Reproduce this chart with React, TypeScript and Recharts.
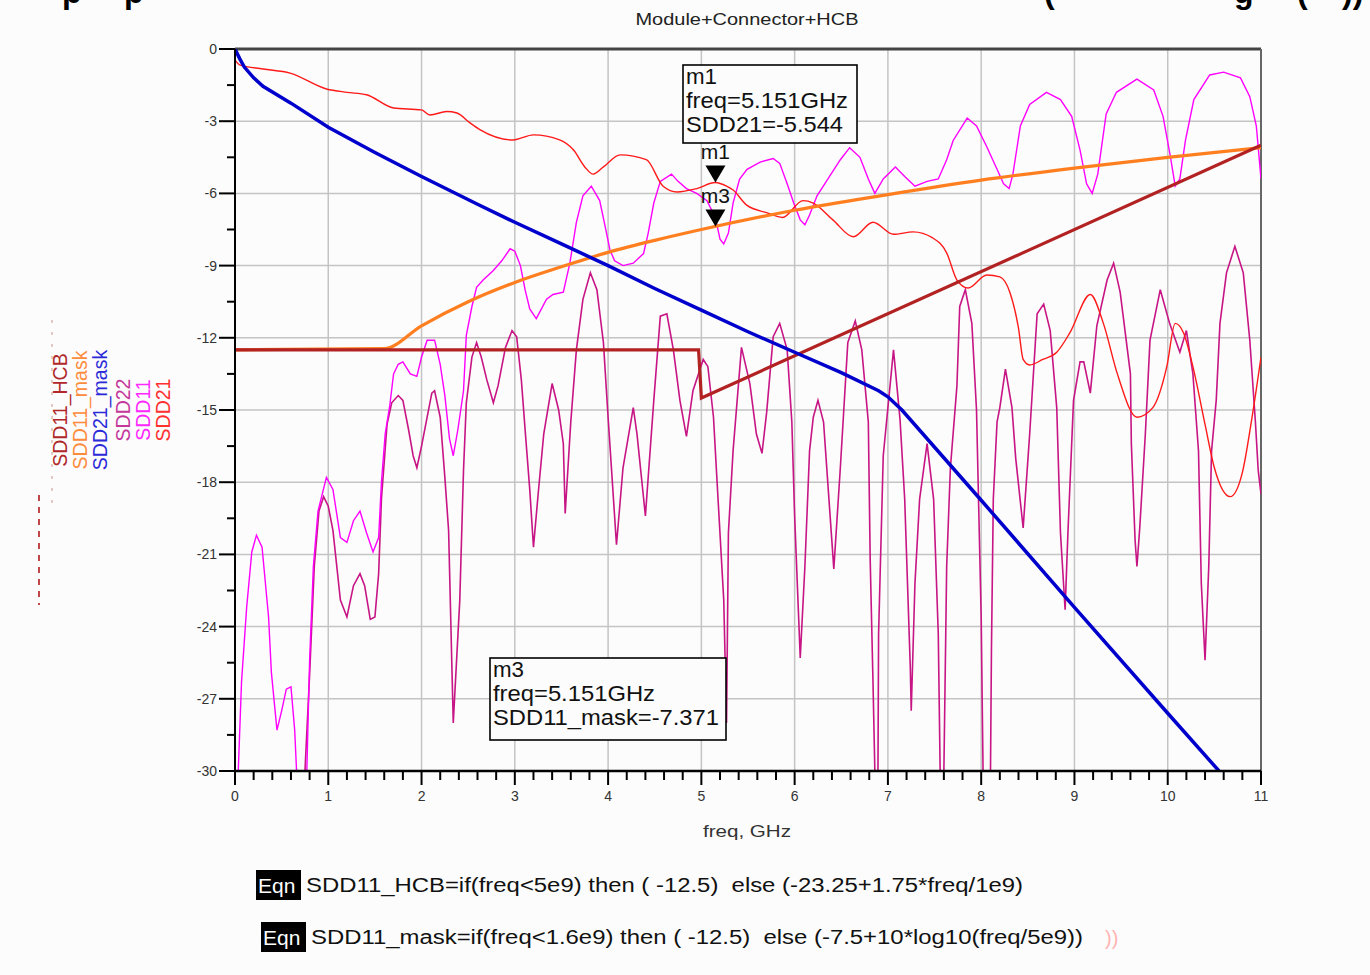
import React from 'react';
import { LineChart, Line, XAxis, YAxis, CartesianGrid, ReferenceLine, ReferenceDot } from 'recharts';

const FONT = '"Liberation Sans", Arial, Helvetica, sans-serif';

// axes: freq in GHz, level in dB
const xMajorTicks = [0, 1, 2, 3, 4, 5, 6, 7, 8, 9, 10, 11];
const yMajorTicks = [0, -3, -6, -9, -12, -15, -18, -21, -24, -27, -30];

// SDD22 (purple) - values of -33 sit below the plot floor and get clipped
const sdd22Freq = [0, 0.72, 0.75, 0.8, 0.85, 0.9, 0.95, 1.0, 1.05, 1.13, 1.2, 1.27, 1.34, 1.39, 1.45, 1.5, 1.54, 1.57, 1.63, 1.68, 1.75, 1.8, 1.86, 1.91, 1.95, 2.0, 2.06, 2.11, 2.14, 2.2, 2.25, 2.29, 2.34, 2.41, 2.45, 2.48, 2.54, 2.59, 2.64, 2.7, 2.77, 2.82, 2.9, 2.97, 3.02, 3.07, 3.11, 3.16, 3.2, 3.25, 3.31, 3.4, 3.47, 3.52, 3.54, 3.6, 3.66, 3.73, 3.81, 3.88, 3.95, 4.0, 4.09, 4.16, 4.27, 4.31, 4.4, 4.49, 4.56, 4.63, 4.7, 4.77, 4.84, 4.91, 5.02, 5.07, 5.13, 5.16, 5.24, 5.27, 5.29, 5.34, 5.43, 5.52, 5.59, 5.65, 5.7, 5.77, 5.84, 5.92, 5.97, 6.0, 6.06, 6.11, 6.16, 6.2, 6.25, 6.31, 6.42, 6.49, 6.57, 6.65, 6.72, 6.79, 6.81, 6.84, 6.86, 6.87, 6.89, 6.9, 6.95, 7.06, 7.13, 7.18, 7.24, 7.25, 7.29, 7.34, 7.42, 7.49, 7.54, 7.56, 7.58, 7.6, 7.63, 7.67, 7.74, 7.77, 7.83, 7.9, 7.95, 8.0, 8.02, 8.05, 8.09, 8.1, 8.11, 8.13, 8.17, 8.2, 8.26, 8.33, 8.37, 8.45, 8.52, 8.6, 8.67, 8.74, 8.81, 8.85, 8.9, 8.93, 8.99, 9.06, 9.1, 9.17, 9.24, 9.35, 9.42, 9.49, 9.6, 9.61, 9.65, 9.67, 9.7, 9.76, 9.81, 9.92, 10.02, 10.13, 10.2, 10.27, 10.33, 10.36, 10.4, 10.44, 10.47, 10.52, 10.56, 10.63, 10.72, 10.81, 10.88, 10.94, 10.97, 11.0];
const sdd22Db = [-33, -33, -30, -26, -21.5, -19.2, -18.6, -19.0, -20.0, -22.9, -23.6, -22.3, -21.8, -22.3, -23.7, -23.6, -21.8, -18.7, -15.6, -14.7, -14.4, -14.6, -15.8, -16.9, -17.4, -16.5, -15.3, -14.3, -14.2, -15.3, -17.8, -20.0, -28.0, -22.9, -17.5, -14.7, -12.8, -12.2, -12.8, -13.75, -14.7, -14.0, -12.4, -11.7, -11.96, -13.75, -15.8, -18.3, -20.7, -18.5, -16.0, -13.9, -15.0, -16.4, -19.3, -15.5, -12.5, -10.4, -9.3, -10.0, -12.2, -15.3, -20.6, -17.4, -14.9, -16.0, -19.4, -14.6, -11.1, -11.0, -12.5, -14.6, -16.1, -14.2, -12.9, -13.2, -15.3, -17.4, -22.9, -28.0, -20.1, -16.7, -12.4, -13.9, -16.0, -16.8, -15.1, -11.95, -11.4, -12.5, -15.5, -19.4, -25.3, -21.5, -16.7, -15.3, -14.6, -15.5, -21.6, -17.4, -12.2, -11.3, -12.5, -15.5, -21.2, -26.3, -30, -33, -33, -24.3, -16.9, -12.5, -15.4, -18.7, -25.7, -27.5, -22.2, -18.7, -16.4, -18.7, -24.3, -30, -33, -30, -21.5, -17.4, -14.0, -10.7, -10.0, -11.4, -15.0, -23.6, -30, -33, -33, -30, -25.0, -18.7, -15.5, -14.9, -13.3, -14.9, -17.0, -19.9, -16.0, -11.0, -10.6, -11.7, -14.9, -20.1, -23.3, -20.1, -14.6, -13.0, -13.0, -14.3, -11.5, -9.6, -8.9, -10.1, -13.5, -16.4, -20.4, -21.5, -19.9, -16.0, -12.1, -10.0, -11.4, -12.6, -11.7, -13.5, -16.7, -22.2, -25.4, -21.5, -16.7, -14.6, -11.4, -9.3, -8.2, -9.3, -12.1, -15.5, -17.5, -18.5];

// SDD11 (magenta)
const sdd11Freq = [0, 0.035, 0.07, 0.125, 0.18, 0.23, 0.29, 0.36, 0.39, 0.45, 0.5, 0.55, 0.6, 0.64, 0.66, 0.68, 0.75, 0.77, 0.8, 0.84, 0.89, 0.98, 1.05, 1.13, 1.2, 1.27, 1.34, 1.41, 1.48, 1.54, 1.57, 1.61, 1.66, 1.7, 1.75, 1.8, 1.88, 1.95, 2.0, 2.06, 2.14, 2.2, 2.25, 2.3, 2.34, 2.39, 2.45, 2.48, 2.54, 2.59, 2.66, 2.77, 2.86, 2.95, 3.0, 3.06, 3.11, 3.16, 3.23, 3.34, 3.41, 3.52, 3.59, 3.66, 3.73, 3.82, 3.91, 3.97, 4.02, 4.07, 4.16, 4.27, 4.38, 4.43, 4.49, 4.56, 4.68, 4.75, 4.84, 4.95, 5.06, 5.15, 5.2, 5.24, 5.29, 5.34, 5.41, 5.49, 5.63, 5.77, 5.84, 5.92, 5.99, 6.06, 6.11, 6.16, 6.24, 6.34, 6.49, 6.59, 6.7, 6.79, 6.86, 6.95, 7.08, 7.18, 7.29, 7.42, 7.54, 7.63, 7.7, 7.85, 7.95, 8.06, 8.17, 8.24, 8.3, 8.34, 8.42, 8.52, 8.7, 8.85, 8.97, 9.06, 9.13, 9.19, 9.25, 9.34, 9.45, 9.67, 9.85, 9.95, 10.03, 10.08, 10.13, 10.19, 10.28, 10.45, 10.6, 10.78, 10.88, 10.95, 11.0];
const sdd11Db = [-33, -30, -26.3, -23.2, -20.9, -20.2, -20.7, -23.6, -25.9, -28.3, -27.5, -26.6, -26.5, -28.3, -30, -33, -33, -30, -25.4, -21.5, -19.2, -17.8, -18.3, -20.3, -20.5, -19.6, -19.2, -20.1, -20.9, -20.3, -18.0, -16.0, -14.8, -13.5, -13.1, -13.0, -13.5, -13.6, -12.8, -12.1, -12.1, -13.1, -14.4, -16.2, -16.9, -15.8, -14.2, -11.9, -10.7, -9.9, -9.6, -9.2, -8.8, -8.3, -8.4, -9.0, -10.0, -10.8, -11.2, -10.4, -10.2, -10.1, -8.9, -7.2, -6.1, -5.7, -6.3, -7.4, -8.35, -8.8, -9.0, -8.9, -8.5, -7.65, -6.4, -5.5, -5.2, -5.5, -5.8, -6.0, -6.3, -7.0, -7.9, -8.1, -7.65, -6.4, -5.4, -5.0, -4.7, -4.55, -4.75, -5.6, -6.4, -7.1, -7.3, -6.9, -6.1, -5.5, -4.6, -4.1, -4.5, -5.4, -6.0, -5.4, -4.9, -5.3, -5.7, -5.5, -5.4, -4.6, -3.8, -2.87, -3.2, -4.06, -5.0, -5.6, -5.8, -5.2, -3.2, -2.3, -1.8, -2.1, -2.8, -4.2, -5.6, -6.0, -5.2, -2.7, -1.8, -1.25, -1.7, -2.8, -4.5, -5.7, -5.4, -3.8, -2.1, -1.08, -0.96, -1.2, -1.98, -3.2, -5.4];

// SDD21 (red)
const sdd21Freq = [0, 0.05, 0.3, 0.59, 0.98, 1.2, 1.41, 1.7, 2.0, 2.09, 2.27, 2.38, 2.52, 2.63, 2.98, 3.2, 3.48, 3.63, 3.75, 3.84, 3.95, 4.13, 4.41, 4.59, 4.74, 4.95, 5.15, 5.27, 5.34, 5.49, 5.7, 5.87, 6.09, 6.2, 6.41, 6.63, 6.84, 7.06, 7.27, 7.48, 7.63, 7.74, 7.86, 8.06, 8.2, 8.31, 8.4, 8.45, 8.52, 8.66, 8.81, 8.95, 9.17, 9.31, 9.46, 9.67, 9.84, 9.99, 10.08, 10.17, 10.27, 10.4, 10.5, 10.67, 10.8, 10.9, 11.0];
const sdd21Db = [-0.45, -0.66, -0.83, -1.0, -1.66, -1.8, -1.9, -2.45, -2.53, -2.74, -2.6, -2.66, -3.07, -3.36, -3.78, -3.57, -3.78, -4.2, -4.9, -5.2, -4.9, -4.4, -4.6, -5.7, -5.94, -5.8, -5.55, -5.7, -5.86, -6.5, -6.8, -7.0, -6.3, -6.4, -7.1, -7.8, -7.2, -7.7, -7.6, -7.85, -8.47, -9.6, -9.93, -9.39, -9.47, -10.14, -11.6, -12.9, -13.13, -12.9, -12.6, -11.8, -10.2, -11.4, -13.5, -15.3, -14.9, -13.2, -11.4, -11.8, -13.2, -15.6, -17.4, -18.6, -17.6, -15.4, -12.8];

// SDD11_mask (orange)
const maskFreq = [0, 1.6, 2, 2.5, 3, 3.5, 4, 4.5, 5, 6, 7, 8, 9, 10, 11];
const maskDb = [-12.5, -12.45, -11.5, -10.5, -9.7, -9.05, -8.45, -7.95, -7.5, -6.7, -6.05, -5.45, -4.95, -4.5, -4.1];

// SDD21_mask (blue)
const sdd21MaskFreq = [0, 0.05, 0.1, 0.2, 0.3, 0.6, 1, 1.5, 2, 2.6, 3, 3.5, 4, 4.5, 5, 5.5, 6, 6.5, 6.9, 7.0, 7.15, 8, 9, 10, 10.55];
const sdd21MaskDb = [0, -0.4, -0.75, -1.2, -1.55, -2.25, -3.25, -4.3, -5.3, -6.45, -7.2, -8.1, -9.0, -9.95, -10.85, -11.75, -12.6, -13.45, -14.2, -14.45, -15.0, -18.75, -23.2, -27.6, -30];

// SDD11_HCB (brown)
const hcbFreq = [0, 4.97, 5.0, 11];
const hcbDb = [-12.5, -12.5, -14.5, -4.0];

// markers
const m1 = { name: 'm1', freq: 5.151, value: -5.544, trace: 'SDD21' };
const m3 = { name: 'm3', freq: 5.151, value: -7.371, trace: 'SDD11_mask' };

const legendNames = ['SDD11_HCB', 'SDD11_mask', 'SDD21_mask', 'SDD22', 'SDD11', 'SDD21'];
const legendColors = ['#b0282a', '#ff8c3c', '#2a2ad8', '#c4389c', '#ff28ff', '#ff3030'];

const toPoints = (f: number[], v: number[]) => f.map((x, i) => ({ f: x, v: v[i] }));
const round1 = (n: number) => Math.round(n * 10) / 10;

const xTicks = xMajorTicks.flatMap((t, i) =>
  i < xMajorTicks.length - 1 ? [0, 0.2, 0.4, 0.6, 0.8].map((d) => round1(t + d)) : [t]
);
const yTicks = yMajorTicks.flatMap((t, i) => (i < yMajorTicks.length - 1 ? [t, t - 1.5] : [t]));

const isMajor = (v: number, step: number) => Math.abs(v / step - Math.round(v / step)) < 1e-6;

function XTick(props: any) {
  const { x, y, payload } = props;
  const v = payload.value;
  const major = isMajor(v, 1);
  return (
    <g>
      <line x1={x} x2={x} y1={y} y2={y + (major ? 14 : 9)} stroke="#000" strokeWidth={2} />
      {major && (
        <text x={x} y={y + 30} textAnchor="middle" fontSize={14} fill="#333" fontFamily={FONT}>
          {Math.round(v)}
        </text>
      )}
    </g>
  );
}

function YTick(props: any) {
  const { x, y, payload } = props;
  const v = payload.value;
  const major = isMajor(v, 3);
  return (
    <g>
      <line x1={x - (major ? 16 : 8)} x2={x} y1={y} y2={y} stroke="#000" strokeWidth={2} />
      {major && (
        <text x={x - 18} y={y} dy="0.35em" textAnchor="end" fontSize={14} fill="#333" fontFamily={FONT}>
          {v}
        </text>
      )}
    </g>
  );
}

const markerShape = (label: string) => (p: any) => {
  const { cx, cy } = p;
  return (
    <g>
      <polygon points={`${cx - 10},${cy - 17} ${cx + 10},${cy - 17} ${cx},${cy}`} fill="#000" />
      <text x={cx} y={cy - 23} textAnchor="middle" fontSize={21} fill="#111" fontFamily={FONT}>
        {label}
      </text>
    </g>
  );
};

function Eqn({ x, y, text, width }: { x: number; y: number; text: string; width: number }) {
  return (
    <g>
      <rect x={x} y={y} width={45} height={30} fill="#000" />
      <text x={x + 2} y={y + 23} fontSize={21} fill="#fff" fontFamily={FONT}>Eqn</text>
      <text x={x + 50} y={y + 22} fontSize={20} fill="#111" fontFamily={FONT} textLength={width} lengthAdjust="spacingAndGlyphs" style={{ whiteSpace: 'pre' }}>
        {text}
      </text>
    </g>
  );
}

function Readout({ x, y, w, h, lines, widths }: { x: number; y: number; w: number; h: number; lines: string[]; widths: number[] }) {
  return (
    <g>
      <rect x={x} y={y} width={w} height={h} fill="#fbfcfb" stroke="#000" strokeWidth={1.6} />
      {lines.map((s, i) => (
        <text key={i} x={x + 3} y={y + 19 + i * 24} fontSize={22} fill="#111" fontFamily={FONT} textLength={widths[i]} lengthAdjust="spacingAndGlyphs">
          {s}
        </text>
      ))}
    </g>
  );
}

export default function App() {
  const bg = '#fbfcfb';
  return (
    <div style={{ position: 'absolute', left: 0, top: 0, width: 1370, height: 975, background: bg, overflow: 'hidden', fontFamily: FONT }}>
      <LineChart width={1370} height={975} margin={{ top: 49, right: 109, bottom: 164, left: 175 }} style={{ position: 'absolute', left: 0, top: 0 }}>
        <CartesianGrid stroke="#c4c4c4" strokeWidth={1.5} horizontalValues={yMajorTicks} verticalValues={xMajorTicks} />
        <XAxis type="number" dataKey="f" domain={[0, 11]} ticks={xTicks} interval={0} allowDataOverflow height={40} tickSize={0} tickMargin={0} tickLine={false} axisLine={{ stroke: '#000', strokeWidth: 2.5 }} tick={(p: any) => <XTick {...p} />} />
        <YAxis type="number" domain={[-30, 0]} ticks={yTicks} interval={0} allowDataOverflow width={60} tickSize={0} tickMargin={0} tickLine={false} axisLine={{ stroke: '#000', strokeWidth: 2 }} tick={(p: any) => <YTick {...p} />} />
        <ReferenceLine y={0} stroke="#444" strokeWidth={3} />
        <ReferenceLine x={11} stroke="#666" strokeWidth={2} />
        <Line data={toPoints(sdd22Freq, sdd22Db)} dataKey="v" type="linear" stroke="#c71585" strokeWidth={1.6} dot={false} isAnimationActive={false} />
        <Line data={toPoints(sdd11Freq, sdd11Db)} dataKey="v" type="linear" stroke="#ff00ff" strokeWidth={1.4} dot={false} isAnimationActive={false} />
        <Line data={toPoints(sdd21Freq, sdd21Db)} dataKey="v" type="monotone" stroke="#ff1a1a" strokeWidth={1.4} dot={false} isAnimationActive={false} />
        <Line data={toPoints(maskFreq, maskDb)} dataKey="v" type="monotone" stroke="#ff7f20" strokeWidth={3.2} dot={false} isAnimationActive={false} />
        <Line data={toPoints(hcbFreq, hcbDb)} dataKey="v" type="linear" stroke="#b22222" strokeWidth={3.2} dot={false} isAnimationActive={false} />
        <Line data={toPoints(sdd21MaskFreq, sdd21MaskDb)} dataKey="v" type="linear" stroke="#0000cc" strokeWidth={3.5} dot={false} isAnimationActive={false} />
        <ReferenceDot x={m1.freq} y={m1.value} r={0} shape={markerShape(m1.name)} />
        <ReferenceDot x={m3.freq} y={m3.value} r={0} shape={markerShape(m3.name)} />
      </LineChart>
      <svg width={1370} height={975} style={{ position: 'absolute', left: 0, top: 0, pointerEvents: 'none' }}>
        {/* cropped heading at the very top */}
        <g fontSize={32} fontWeight="bold" fill="#000" fontFamily={FONT}>
          <text x={62} y={3}>p</text>
          <text x={124} y={3}>p</text>
          <text x={1044} y={3}>(</text>
          <text x={1234} y={3}>g</text>
          <text x={1297} y={3}>(</text>
          <text x={1342} y={3}>))</text>
        </g>
        <text x={747} y={25} textAnchor="middle" fontSize={17} fill="#222" textLength={223} lengthAdjust="spacingAndGlyphs" fontFamily={FONT}>Module+Connector+HCB</text>
        <text x={747} y={837} textAnchor="middle" fontSize={16} fill="#333" textLength={88} lengthAdjust="spacingAndGlyphs" fontFamily={FONT}>freq, GHz</text>

        {/* legend */}
        <line x1={52} x2={52} y1={320} y2={510} stroke="#d4a6a6" strokeWidth={1.2} strokeDasharray="3 9" />
        <line x1={39} x2={39} y1={495} y2={605} stroke="#c04848" strokeWidth={2} strokeDasharray="6 6" />
        {legendNames.map((name, i) => {
          const bx = [67, 87, 107, 130, 150, 170][i];
          return (
            <text key={name} x={bx} y={410} transform={`rotate(-90 ${bx} 410)`} textAnchor="middle" fontSize={19.5} fill={legendColors[i]} fontFamily={FONT}>
              {name}
            </text>
          );
        })}

        {/* marker readouts */}
        <Readout x={683} y={65} w={174} h={78} lines={[m1.name, `freq=${m1.freq}GHz`, `${m1.trace}=${m1.value}`]} widths={[31, 162, 157]} />
        <Readout x={490} y={658} w={236} h={82} lines={[m3.name, `freq=${m3.freq}GHz`, `${m3.trace}=${m3.value}`]} widths={[31, 162, 226]} />

        {/* equations */}
        <Eqn x={256} y={870} width={717} text="SDD11_HCB=if(freq<5e9) then ( -12.5)  else (-23.25+1.75*freq/1e9)" />
        <Eqn x={261} y={922} width={772} text="SDD11_mask=if(freq<1.6e9) then ( -12.5)  else (-7.5+10*log10(freq/5e9))" />
        <text x={1105} y={945} fontSize={20} fill="#ffb4b4" fontFamily={FONT}>))</text>
      </svg>
    </div>
  );
}
